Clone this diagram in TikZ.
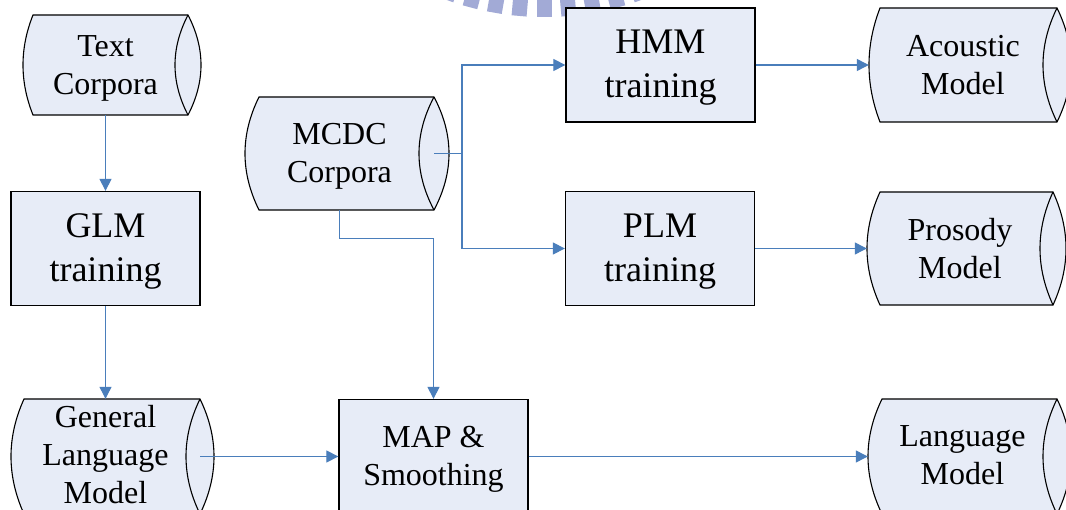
\documentclass[tikz,border=0pt]{standalone}
\usepackage{fontspec}
\setmainfont{Liberation Serif}
\usetikzlibrary{arrows.meta,calc}

\definecolor{paneblue}{RGB}{231,236,247}
\definecolor{linkblue}{RGB}{74,126,187}
\definecolor{sealblue}{RGB}{162,170,214}

\tikzset{
  procbox/.style={draw=black, fill=paneblue, line width=1.3pt, rectangle,
    minimum width=189pt, minimum height=114pt, inner sep=0pt},
  boxtext/.style={inner sep=0pt, align=center, yshift=-3pt,
    font=\fontsize{36}{44}\selectfont},
  smalltext/.style={inner sep=0pt, align=center,
    font=\fontsize{32}{38}\selectfont},
  drumline/.style={draw=black, line width=1.1pt},
  arr/.style={draw=linkblue, line width=1.2pt, -{Triangle[length=12pt,width=12pt]}},
  link/.style={draw=linkblue, line width=1.2pt},
}

% storage drum: name, left bulge x, left corner x, right corner x,
% lens half-width, top y, bottom y, text, vertical text offset
\newcommand\drum[9]{%
  \pgfmathsetmacro\dH{#7-#6}%
  \pgfmathsetmacro\dS{4/3*(#3-#2)}%
  \pgfmathsetmacro\dE{4/3*#5}%
  \fill[paneblue] (#3,#6) -- (#4,#6)
     .. controls ({#4+\dE},{#6+\dH/3}) and ({#4+\dE},{#7-\dH/3}) .. (#4,#7)
     -- (#3,#7)
     .. controls ({#3-\dS},{#7-\dH/3}) and ({#3-\dS},{#6+\dH/3}) .. (#3,#6) -- cycle;
  \draw[drumline] (#3,#6) -- (#4,#6)
     .. controls ({#4+\dE},{#6+\dH/3}) and ({#4+\dE},{#7-\dH/3}) .. (#4,#7)
     -- (#3,#7)
     .. controls ({#3-\dS},{#7-\dH/3}) and ({#3-\dS},{#6+\dH/3}) .. (#3,#6) -- cycle;
  \draw[drumline] (#4,#6)
     .. controls ({#4-\dE},{#6+\dH/3}) and ({#4-\dE},{#7-\dH/3}) .. (#4,#7);
  \node[rectangle, inner sep=0pt, minimum width={(#4-#2)*1pt},
     minimum height={(#7-#6)*1pt},
     label={[smalltext, yshift=#9]center:#8}]
     (#1) at ({(#2+#4)/2},{(#6+#7)/2}) {};
}

\begin{document}
\begin{tikzpicture}[x=1pt, y=-1pt]
\useasboundingbox (0,0) rectangle (1066,510);
\clip (0,0) rectangle (1066,510);
\fill[white] (0,0) rectangle (1066,510);

% seal ring at the top edge
\foreach \k in {-4,...,4}{
  \draw[sealblue, line width=15pt]
    ($(544,-269)+({90+5*\k}:255)$) -- ($(544,-269)+({90+5*\k}:286)$);
}

% data stores
\drum{tc}{23}{33}{188}{13}{15}{115}{Text\\Corpora}{-3pt}
\drum{mcdc}{245}{259}{434}{15}{97}{210}{MCDC\\Corpora}{-3pt}
\drum{am}{869}{880}{1057}{14}{8}{122}{Acoustic\\Model}{0pt}
\drum{pm}{867}{880}{1053}{13}{192}{305}{Prosody\\Model}{0pt}
\drum{glm}{11}{24}{200}{14}{399}{514}{General\\Language\\Model}{2pt}
\drum{lm}{868}{882}{1057}{14}{399}{514}{Language\\Model}{1pt}

% processing steps
\node[procbox, label={[boxtext]center:GLM\\training}] (gtr) at (105.5,248.5) {};
\node[procbox, label={[boxtext]center:HMM\\training}] (hmm) at (660.5,65) {};
\node[procbox, label={[boxtext]center:PLM\\training}] (plm) at (660,248.5) {};
\node[procbox, label={[smalltext, yshift=-3pt]center:MAP \&\\Smoothing}] (map) at (433.5,456.5) {};

% connectors
\coordinate (split) at (462,153.5);
\draw[arr] (tc.south -| gtr.north) -- (gtr.north);
\draw[arr] (gtr.south) -- (glm.north -| gtr.south);
\draw[arr] (glm.east) -- (map.west);
\draw[arr] (map.east) -- (lm.west);
\draw[link] (mcdc.east) -- (split);
\draw[arr] (split) |- (hmm.west);
\draw[arr] (split) |- (plm.west);
\draw[arr] (mcdc.south) -- ++(0,28) -| (map.north);
\draw[arr] (hmm.east) -- (am.west);
\draw[arr] (plm.east) -- (pm.west);
\end{tikzpicture}
\end{document}
